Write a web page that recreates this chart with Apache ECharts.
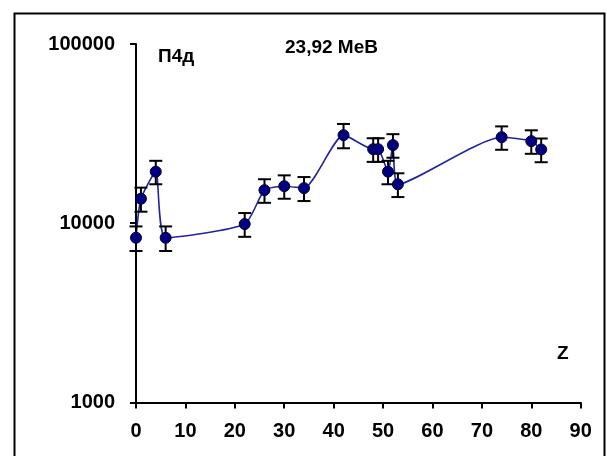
<!DOCTYPE html>
<html>
<head>
<meta charset="utf-8">
<script src="https://cdn.jsdelivr.net/npm/echarts@6/dist/echarts.min.js"></script>
<style>
html,body{margin:0;padding:0;background:#fff;}
#chart{width:607px;height:456px;}
</style>
</head>
<body>
<div id="chart"></div>
<script>
// Atomic number Z of the targets
var zValues = [0, 1, 4, 6, 22, 26, 30, 34, 42, 48, 49, 51, 52, 53, 74, 80, 82];
// measured yields
var yields = [8300, 13700, 19400, 8300, 9900, 15300, 16100, 15700, 31000, 25900, 25900, 19400, 27300, 16500, 30200, 28700, 25800];
// error (±)
var errors = [1300, 2100, 2900, 1300, 1500, 2300, 2400, 2400, 4800, 3900, 3900, 2900, 4100, 2500, 4500, 4300, 3900];
var xTicks = [0, 10, 20, 30, 40, 50, 60, 70, 80, 90];
var yTicks = [1000, 10000, 100000];
var labelTopLeft = 'П4д';
var labelTopMid = '23,92 MeB';
var labelAxisX = 'Z';

var FONT = '"Liberation Sans", Arial, sans-serif';

var pts = zValues.map(function (z, i) { return [z, yields[i]]; });
var errPts = zValues.map(function (z, i) { return [z, yields[i], errors[i]]; });

var chart = echarts.init(document.getElementById('chart'), null, {renderer: 'canvas'});
chart.setOption({
  backgroundColor: '#ffffff',
  animation: false,
  grid: {
    left: 136, top: 44, width: 444.7, height: 358.5,
    containLabel: false, outerBoundsMode: 'none'
  },
  xAxis: {
    type: 'value',
    min: xTicks[0], max: xTicks[xTicks.length - 1], interval: 10,
    axisLine: {show: true, onZero: false, lineStyle: {color: '#000', width: 2}},
    axisTick: {show: true, inside: false, length: 6, lineStyle: {color: '#000', width: 2}},
    axisLabel: {
      margin: 19, color: '#000', fontSize: 20, fontWeight: 'bold', fontFamily: FONT,
      showMinLabel: true, showMaxLabel: true
    },
    splitLine: {show: false}
  },
  yAxis: {
    type: 'log', logBase: 10,
    min: yTicks[0], max: yTicks[yTicks.length - 1],
    axisLine: {show: true, onZero: false, lineStyle: {color: '#000', width: 2}},
    axisTick: {show: true, inside: false, length: 6, lineStyle: {color: '#000', width: 2}},
    axisLabel: {
      margin: 21, color: '#000', fontSize: 20, fontWeight: 'bold', fontFamily: FONT,
      formatter: function (v) { return String(Math.round(v)); },
      showMinLabel: true, showMaxLabel: true
    },
    splitLine: {show: false},
    minorTick: {show: false}
  },
  graphic: [
    {type: 'rect', left: 12, top: 11, z: 0,
     shape: {width: 590, height: 452},
     style: {fill: 'none', stroke: '#000', lineWidth: 2}},
    {type: 'text', left: 158, top: 47, z: 10,
     style: {text: labelTopLeft, font: 'bold 19px ' + FONT, fill: '#000'}},
    {type: 'text', left: 285, top: 38, z: 10,
     style: {text: labelTopMid, font: 'bold 19px ' + FONT, fill: '#000'}},
    {type: 'text', left: 557, top: 344, z: 10,
     style: {text: labelAxisX, font: 'bold 19px ' + FONT, fill: '#000'}}
  ],
  series: [
    {
      type: 'line', data: pts, smooth: 0.2, showSymbol: false, z: 1,
      lineStyle: {color: '#2323a0', width: 1.6}
    },
    {
      type: 'custom', data: errPts, z: 2,
      renderItem: function (params, api) {
        var x = api.value(0), v = api.value(1), e = api.value(2);
        var top = api.coord([x, v + e]);
        var bot = api.coord([x, v - e]);
        var hw = 6.5;
        var st = {stroke: '#000', lineWidth: 2};
        return {
          type: 'group',
          children: [
            {type: 'line', shape: {x1: top[0], y1: top[1], x2: bot[0], y2: bot[1]}, style: st},
            {type: 'line', shape: {x1: top[0] - hw, y1: top[1], x2: top[0] + hw, y2: top[1]}, style: st},
            {type: 'line', shape: {x1: bot[0] - hw, y1: bot[1], x2: bot[0] + hw, y2: bot[1]}, style: st}
          ]
        };
      }
    },
    {
      type: 'scatter', data: pts, z: 3,
      symbol: 'circle', symbolSize: 11,
      itemStyle: {color: '#000080', borderColor: '#000033', borderWidth: 1, opacity: 1}
    }
  ]
});
</script>
</body>
</html>
